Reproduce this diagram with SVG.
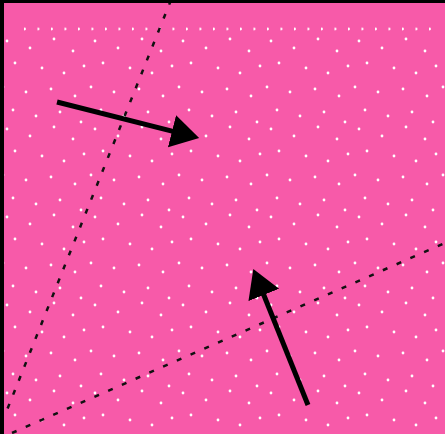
<svg xmlns="http://www.w3.org/2000/svg" width="445" height="434" viewBox="0 0 445 434">
<style>
.dash{fill:none;stroke:#111;stroke-width:2.5;stroke-dasharray:5 10}
.arrow{fill:none;stroke:#000;stroke-width:5}
.dot{fill:#fff}
</style>
<defs>
<pattern id="dots" x="0" y="37" width="88" height="88" patternUnits="userSpaceOnUse">
<g class="dot">
<circle cx="7" cy="4" r="1.4"/><circle cx="30" cy="11" r="1.4"/><circle cx="54" cy="2" r="1.4"/><circle cx="73" cy="14" r="1.4"/>
<circle cx="15" cy="26" r="1.4"/><circle cx="42" cy="31" r="1.4"/><circle cx="64" cy="36" r="1.4"/><circle cx="84" cy="29" r="1.4"/>
<circle cx="3" cy="50" r="1.4"/><circle cx="26" cy="55" r="1.4"/><circle cx="51" cy="52" r="1.4"/><circle cx="75" cy="59" r="1.4"/>
<circle cx="13" cy="73" r="1.4"/><circle cx="36" cy="79" r="1.4"/><circle cx="60" cy="75" r="1.4"/><circle cx="81" cy="85" r="1.4"/>
</g>
</pattern>
<pattern id="row" x="24" y="25" width="13.5" height="8" patternUnits="userSpaceOnUse">
<circle class="dot" cx="0.5" cy="4" r="1.4"/>
</pattern>
<marker id="head" viewBox="0 -17 30 34" markerWidth="30" markerHeight="34" refX="1" refY="0" orient="auto" markerUnits="userSpaceOnUse">
<path d="M0,-16.5 L28,0 L0,16.5 Z" fill="#000"/>
</marker>
</defs>
<rect x="0" y="0" width="445" height="434" fill="#f75aa9"/>
<rect x="20" y="25" width="420" height="8" fill="url(#row)"/>
<rect x="4" y="37" width="441" height="397" fill="url(#dots)"/>
<g id="connectors">
<line class="dash" x1="171" y1="0" x2="5" y2="415"/>
<line class="dash" x1="12" y1="433" x2="445" y2="243"/>
<line class="arrow" x1="57" y1="102" x2="173" y2="131.4" marker-end="url(#head)"/>
<line class="arrow" x1="308" y1="405" x2="263.4" y2="294" marker-end="url(#head)"/>
</g>
<rect x="0" y="0" width="445" height="3" fill="#000"/>
<rect x="0" y="0" width="4" height="434" fill="#000"/>
</svg>
